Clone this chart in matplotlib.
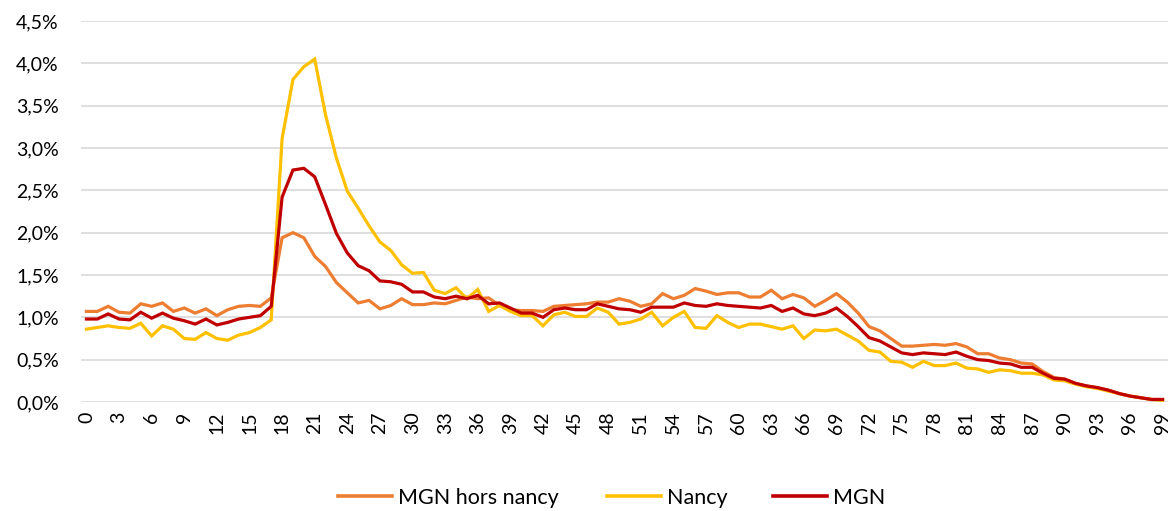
import matplotlib
matplotlib.use("Agg")
import matplotlib.pyplot as plt
from matplotlib.ticker import FuncFormatter, FixedLocator
from matplotlib.lines import Line2D

ages = list(range(100))
tick_ages = list(range(0, 100, 3))

mgn_hors_nancy = [
    1.07, 1.07, 1.13, 1.06, 1.05, 1.16, 1.13, 1.17, 1.07, 1.11, 1.05, 1.10, 1.02, 1.09, 1.13, 1.14, 1.13, 1.23,
    1.94, 2.00, 1.94, 1.72, 1.60, 1.41, 1.29, 1.17, 1.20,
    1.10, 1.14, 1.22, 1.15, 1.15, 1.17, 1.16, 1.20,
    1.24, 1.22, 1.23, 1.14, 1.09, 1.08, 1.08, 1.07, 1.13, 1.14, 1.15, 1.16, 1.18, 1.18, 1.22, 1.19, 1.13, 1.16,
    1.28, 1.22, 1.26, 1.34, 1.31, 1.27, 1.29, 1.29, 1.24,
    1.24, 1.32, 1.22, 1.27, 1.23, 1.13, 1.20, 1.28, 1.18, 1.05, 0.89, 0.84, 0.75, 0.66,
    0.66, 0.67, 0.68, 0.67, 0.69, 0.65, 0.57, 0.57, 0.52, 0.50, 0.46, 0.45, 0.36, 0.29, 0.27,
    0.22, 0.19, 0.17, 0.14, 0.10, 0.07, 0.05, 0.03, 0.03,
]

nancy = [
    0.86, 0.88, 0.90, 0.88, 0.87, 0.93, 0.78, 0.90, 0.86, 0.75, 0.74, 0.82, 0.75, 0.73, 0.79, 0.82, 0.88, 0.97,
    3.11, 3.81, 3.96, 4.05, 3.39, 2.88, 2.49, 2.29, 2.08,
    1.89, 1.79, 1.62, 1.52, 1.53, 1.32, 1.28, 1.35,
    1.22, 1.33, 1.07, 1.14, 1.07, 1.02, 1.02, 0.90, 1.03, 1.06, 1.01, 1.01, 1.11, 1.06, 0.92, 0.94, 0.98, 1.06,
    0.90, 1.00, 1.07, 0.88, 0.87, 1.02, 0.94, 0.88, 0.92,
    0.92, 0.89, 0.86, 0.90, 0.75, 0.85, 0.84, 0.86, 0.79, 0.72, 0.61, 0.59, 0.48, 0.47,
    0.41, 0.48, 0.43, 0.43, 0.46, 0.40, 0.39, 0.35, 0.38, 0.37, 0.34, 0.34, 0.32, 0.26, 0.25,
    0.21, 0.18, 0.16, 0.13, 0.10, 0.07, 0.05, 0.03, 0.02,
]

mgn = [
    0.98, 0.98, 1.04, 0.98, 0.97, 1.06, 0.99, 1.05, 0.99, 0.96, 0.92, 0.98, 0.91, 0.94, 0.98, 1.00, 1.02, 1.13,
    2.42, 2.74, 2.76, 2.66, 2.33, 1.99, 1.76, 1.61, 1.55,
    1.43, 1.42, 1.39, 1.30, 1.30, 1.24, 1.22, 1.25,
    1.22, 1.26, 1.16, 1.17, 1.11, 1.05, 1.05, 1.00, 1.09, 1.11, 1.09, 1.09, 1.16, 1.13, 1.10, 1.09, 1.06, 1.12,
    1.12, 1.12, 1.17, 1.14, 1.13, 1.16, 1.14, 1.13, 1.12,
    1.11, 1.14, 1.07, 1.11, 1.04, 1.02, 1.05, 1.11, 1.01, 0.89, 0.76, 0.72, 0.65, 0.58,
    0.56, 0.58, 0.57, 0.56, 0.59, 0.54, 0.50, 0.49, 0.46, 0.45, 0.41, 0.41, 0.34, 0.28, 0.27,
    0.22, 0.19, 0.17, 0.14, 0.10, 0.07, 0.05, 0.03, 0.03,
]

series_names = ["MGN hors nancy", "Nancy", "MGN"]
series_colors = ["#ED7D31", "#FFC000", "#C00000"]

plt.rcParams['font.family'] = ['Lato', 'DejaVu Sans']

W, H = 1168, 511
fig = plt.figure(figsize=(W / 100, H / 100), dpi=100)
ax = fig.add_axes([81 / W, (H - 402) / H, (1168 - 81) / W, (402 - 21) / H])

for vals, name, col in zip([mgn_hors_nancy, nancy, mgn], series_names, series_colors):
    ax.plot(ages, vals, color=col, lw=2.3, label=name, solid_joinstyle='miter', zorder=3)

ax.set_xlim(-0.5, 99.5)
ax.set_ylim(0, 4.5)
ax.yaxis.set_major_locator(FixedLocator([i * 0.5 for i in range(10)]))
ax.yaxis.set_major_formatter(FuncFormatter(lambda v, p: f"{v:.1f}%".replace('.', ',')))
ax.set_xticks(tick_ages)
ax.set_xticklabels([str(a) for a in tick_ages], rotation=90, va='top', ha='center')
ax.grid(axis='y', color='#d9d9d9', lw=1.2, zorder=0)
ax.set_axisbelow(True)
for s in ax.spines.values():
    s.set_visible(False)
ax.tick_params(axis='both', length=0, labelsize=14, colors='#000000')
ax.tick_params(axis='y', pad=16)
ax.tick_params(axis='x', pad=7)

# legend entries placed like the reference
legend_x = [338, 607, 773]
for x0, name, col in zip(legend_x, series_names, series_colors):
    h = Line2D([], [], color=col, lw=2.6)
    fig.legend([h], [name], loc='center left', bbox_to_anchor=(x0 / W, 1 - 498 / H),
               frameon=False, fontsize=15.5, handlelength=2.5, handletextpad=0.3,
               borderpad=0, borderaxespad=0)

fig.savefig("out.png", dpi=100)
